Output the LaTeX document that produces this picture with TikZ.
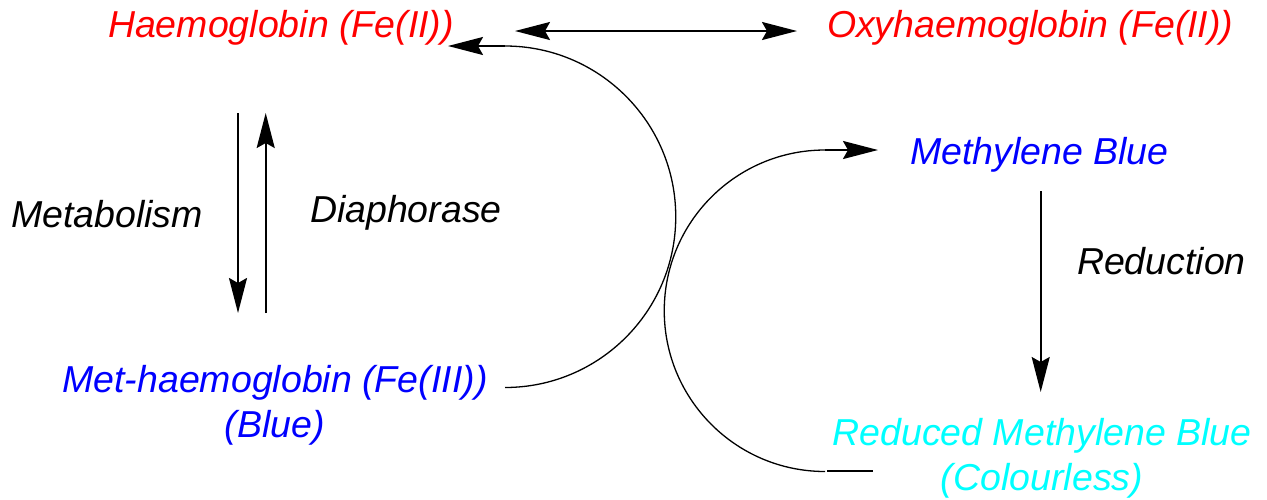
\documentclass[tikz,border=0pt]{standalone}
\usepackage{fontspec}
\setmainfont{Liberation Sans}
\usetikzlibrary{arrows.meta}
\definecolor{hbred}{RGB}{255,0,0}
\definecolor{mbblue}{RGB}{0,0,255}
\definecolor{mbcyan}{RGB}{0,255,255}
\begin{document}
\begin{tikzpicture}[x=1pt,y=-1pt,
  lbl/.style={inner sep=0pt,outer sep=0pt,font=\fontsize{37.5}{45}\selectfont\itshape},
  conn/.style={line width=2pt,-{Stealth[length=35pt,width=18pt,inset=5pt]}},
  dconn/.style={line width=2pt,{Stealth[length=35pt,width=18pt,inset=5pt]}-{Stealth[length=35pt,width=18pt,inset=5pt]}},
  thin arc/.style={line width=1.3pt}]
\useasboundingbox (0,0) rectangle (1267,499);
% species
\node[lbl,text=hbred,anchor=base west] (hb) at (108,37) {Haemoglobin (Fe(II))};
\node[lbl,text=hbred,anchor=base west] (oxy) at (827,37) {Oxyhaemoglobin (Fe(II))};
\node[lbl,text=mbblue,anchor=base west] (mb) at (910,164) {Methylene Blue};
\node[lbl,text=mbblue,align=center,anchor=base] (met) at (275,437) {Met-haemoglobin (Fe(III))\\(Blue)};
\node[lbl,text=mbcyan,align=center,anchor=base] (rmb) at (1042,490) {Reduced Methylene Blue\\(Colourless)};
% labels
\node[lbl,anchor=base west] (metab) at (11,227) {Metabolism};
\node[lbl,anchor=base west] (diaph) at (310,222) {Diaphorase};
\node[lbl,anchor=base west] (red) at (1077,274) {Reduction};
% connector ends
\coordinate (hbR) at (515,31);
\coordinate (oxyL) at (797,31);
\coordinate (d1) at (238,113);
\coordinate (d2) at (238,313);
\coordinate (u1) at (265.7,313);
\coordinate (u2) at (265.7,113);
\coordinate (r1) at (1040.7,191);
\coordinate (r2) at (1040.7,392);
\coordinate (metR) at (505,387.5);
\coordinate (arcTop) at (505,46);
\coordinate (hbTip) at (448,46);
\coordinate (rmbL) at (825,471.5);
\coordinate (arc2Top) at (825,150);
\coordinate (mbTip) at (878,150);
\coordinate (rmbS) at (827,471);
\coordinate (rmbE) at (873,471);
% connectors
\draw[dconn] (hbR) -- (oxyL);
\draw[conn] (d1) -- (d2);
\draw[conn] (u1) -- (u2);
\draw[conn] (r1) -- (r2);
\draw[thin arc] (metR) arc[start angle=90,end angle=-90,radius=170.75];
\draw[conn] (arcTop) -- (hbTip);
\draw[thin arc] (rmbL) arc[start angle=90,end angle=270,radius=160.75];
\draw[conn] (arc2Top) -- (mbTip);
\draw[line width=2pt] (rmbS) -- (rmbE);
\end{tikzpicture}
\end{document}
